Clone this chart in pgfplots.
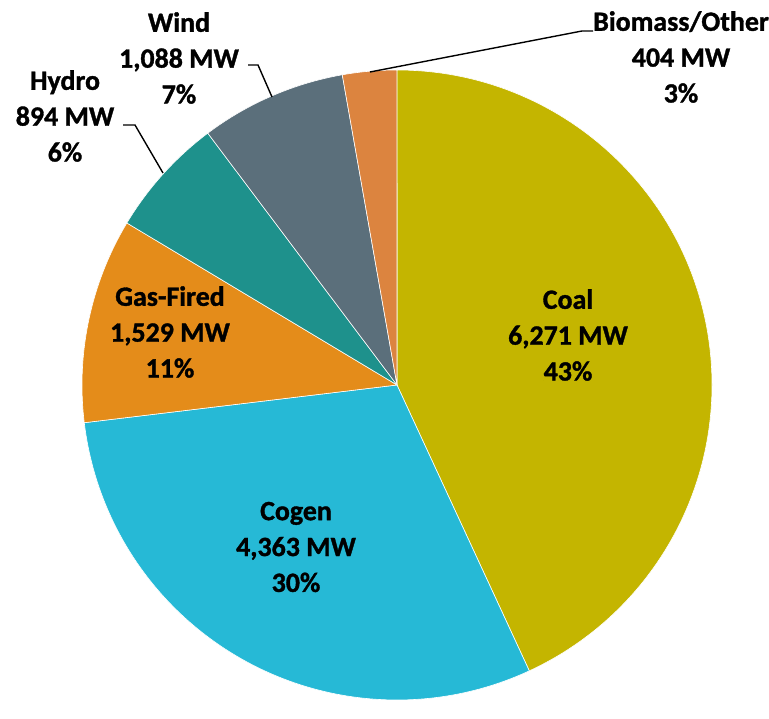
\documentclass[border=0pt]{standalone}
\usepackage{pgfplots}
\pgfplotsset{compat=1.18}
\usepackage{fontspec}
\setmainfont{Carlito}[BoldFeatures={FakeBold=1.2}]
\definecolor{coalc}{RGB}{196,181,0}
\definecolor{cogenc}{RGB}{38,185,214}
\definecolor{gasc}{RGB}{228,140,26}
\definecolor{hydroc}{RGB}{30,145,140}
\definecolor{windc}{RGB}{91,111,123}
\definecolor{bioc}{RGB}{220,132,63}
\newcommand{\slice}[3]{%
  \fill[#3, draw=white, line width=0.6pt] (axis cs:397,316) -- ++(#1:315bp)
    arc[start angle=#1, end angle=#2, radius=315bp] -- cycle;}
\begin{document}
\begin{tikzpicture}
\begin{axis}[
  width=769bp, height=701bp, scale only axis,
  xmin=0, xmax=769, ymin=0, ymax=701,
  hide axis, clip=false]
\path (axis cs:0,0) rectangle (axis cs:769,701);
\pgfmathsetmacro{\total}{6271+4363+1529+894+1088+404}
\def\a{90}
\pgfplotsforeachungrouped \v/\c in {6271/coalc,4363/cogenc,1529/gasc,894/hydroc,1088/windc,404/bioc}{%
  \pgfmathsetmacro{\b}{\a-(\v/\total)*360}%
  \edef\temp{\noexpand\slice{\a}{\b}{\c}}%
  \temp
  \global\let\a\b
}
\draw[black, line width=1.4pt] (axis cs:593,670) -- (axis cs:582,670) -- (axis cs:370,629);
\draw[black, line width=1.4pt] (axis cs:248,636) -- (axis cs:258,636) -- (axis cs:272,604);
\draw[black, line width=1.4pt] (axis cs:123,576) -- (axis cs:135,576) -- (axis cs:163,528);
\tikzset{lab/.style={align=center, inner sep=0pt, font=\bfseries\fontsize{28}{36}\selectfont}}
\node[lab] at (axis cs:568,366) {Coal\\6,271 MW\\43\%};
\node[lab] at (axis cs:296,154) {Cogen\\4,363 MW\\30\%};
\node[lab] at (axis cs:170,369) {Gas-Fired\\1,529 MW\\11\%};
\node[lab] at (axis cs:65,585) {Hydro\\894 MW\\6\%};
\node[lab] at (axis cs:179,643) {Wind\\1,088 MW\\7\%};
\node[lab] at (axis cs:681,644) {Biomass/Other\\404 MW\\3\%};
\end{axis}
\end{tikzpicture}
\end{document}
